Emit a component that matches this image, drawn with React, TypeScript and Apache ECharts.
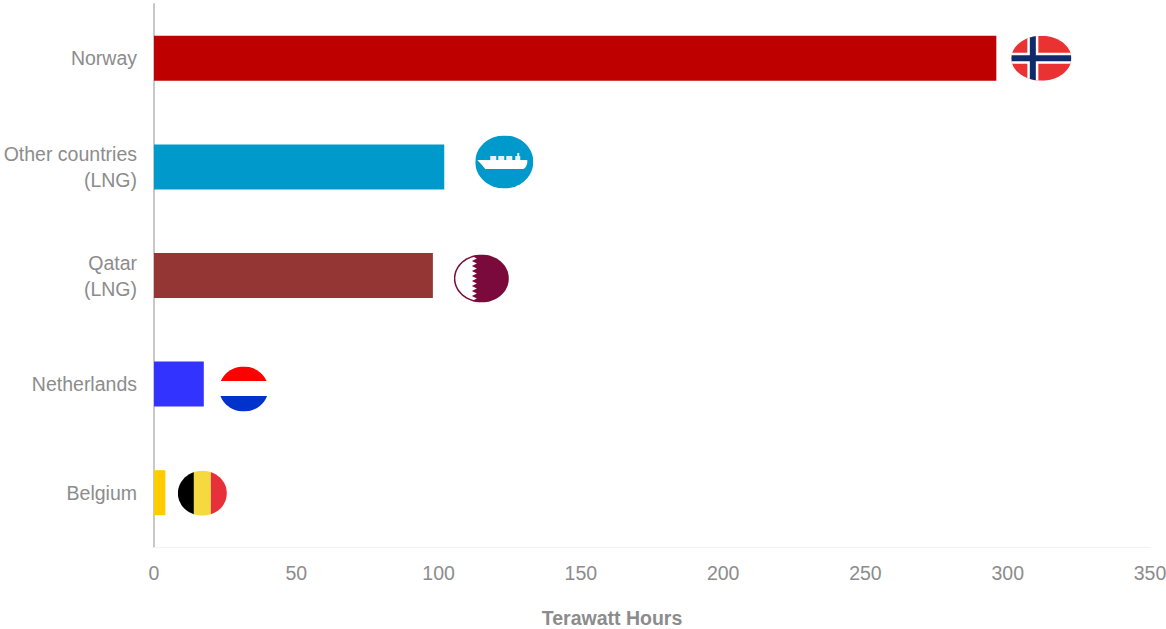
import React, { useEffect, useRef } from "react";
import * as echarts from "echarts";

const countries = ["Norway", "Other countries\n(LNG)", "Qatar\n(LNG)", "Netherlands", "Belgium"];
const terawattHours = [296, 102, 98, 17.5, 4];
const barColors = ["#bf0000", "#0099cc", "#933634", "#3333ff", "#ffcc00"];
const xTicks = { min: 0, max: 350, interval: 50 };
const iconKinds = ["norway", "ship", "qatar", "netherlands", "belgium"];

const FONT = '"Liberation Sans", Arial, sans-serif';
const GREY = "#8c8c8c";

// Icon placement relative to the end of its bar (dx, dy from bar centre, radii)
const iconPlacement: Record<string, { dx: number; dy: number; rx: number; ry: number }> = {
  norway: { dx: 45, dy: 0, rx: 30, ry: 22.5 },
  ship: { dx: 60, dy: -5, rx: 29, ry: 26.5 },
  qatar: { dx: 48.5, dy: 3, rx: 27.5, ry: 24 },
  netherlands: { dx: 40, dy: 5, rx: 24.5, ry: 22.5 },
  belgium: { dx: 37, dy: 0.5, rx: 24.5, ry: 22.5 },
};

const rect = (x: number, y: number, width: number, height: number, fill: string) => ({
  type: "rect",
  shape: { x, y, width, height },
  style: { fill },
});

function qatarEdge(rx: number, ry: number) {
  const teeth = 9;
  const h = (2 * ry) / teeth;
  let d = `M ${-rx - 1} ${-ry - 1} L -9.5 ${-ry - 1} L -9.5 ${-ry}`;
  for (let i = 0; i < teeth; i++) {
    const top = -ry + i * h;
    d += ` L -4.5 ${top + h / 2} L -9.5 ${top + h}`;
  }
  d += ` L -9.5 ${ry + 1} L ${-rx - 1} ${ry + 1} Z`;
  return d;
}

function iconChildren(kind: string, rx: number, ry: number): any[] {
  switch (kind) {
    case "norway":
      return [
        rect(-rx, -ry, 2 * rx, 2 * ry, "#ea3232"),
        rect(-14, -ry, 11, 2 * ry, "#ffffff"),
        rect(-rx, -5.5, 2 * rx, 11, "#ffffff"),
        rect(-11.5, -ry, 6, 2 * ry, "#0f2b6b"),
        rect(-rx, -3, 2 * rx, 6, "#0f2b6b"),
      ];
    case "ship":
      return [
        rect(-rx, -ry, 2 * rx, 2 * ry, "#0099cc"),
        rect(-14, -6, 6, 4, "#e3f3f9"),
        rect(-6, -6, 6, 4, "#e3f3f9"),
        rect(2, -6, 6, 4, "#e3f3f9"),
        rect(11, -6, 5, 4, "#e3f3f9"),
        rect(13, -9, 2, 3, "#e3f3f9"),
        {
          type: "path",
          shape: { pathData: "M -27 -2 L 23 -2 L 23 1 Q 22 6 19 7 L -19 7 Q -22 3 -27 -2 Z" },
          style: { fill: "#ffffff" },
        },
      ];
    case "qatar":
      return [
        rect(-rx, -ry, 2 * rx, 2 * ry, "#7a0a3c"),
        {
          type: "group",
          clipPath: { type: "ellipse", shape: { cx: 0, cy: 0, rx: rx - 1.5, ry: ry - 1.5 } },
          children: [
            {
              type: "path",
              shape: { pathData: qatarEdge(rx - 1.5, ry - 1.5) },
              style: { fill: "#ffffff" },
            },
          ],
        },
      ];
    case "netherlands":
      return [
        rect(-rx, -ry, 2 * rx, 14.5, "#ff0000"),
        rect(-rx, -ry + 14.5, 2 * rx, 15, "#ffffff"),
        rect(-rx, -ry + 29.5, 2 * rx, 2 * ry - 29.5, "#0033cc"),
      ];
    default:
      return [
        rect(-rx, -ry, 16, 2 * ry, "#000000"),
        rect(-rx + 16, -ry, 17, 2 * ry, "#f6d93f"),
        rect(-rx + 33, -ry, 2 * rx - 33, 2 * ry, "#e8303a"),
      ];
  }
}

export default function App() {
  const ref = useRef<HTMLDivElement>(null);

  useEffect(() => {
    document.body.style.margin = "0";
    const chart = echarts.init(ref.current!, null, { renderer: "svg" });
    chart.setOption({
      animation: false,
      backgroundColor: "#ffffff",
      grid: { left: 154, top: 4, width: 996, height: 543, containLabel: false, outerBoundsMode: "none" },
      xAxis: {
        type: "value",
        min: xTicks.min,
        max: xTicks.max,
        interval: xTicks.interval,
        name: "Terawatt Hours",
        nameLocation: "middle",
        nameGap: 61,
        nameTextStyle: {
          fontFamily: FONT,
          fontSize: 19.5,
          fontWeight: "bold",
          color: GREY,
          padding: [0, 80, 0, 0],
        },
        axisLine: { show: true, lineStyle: { color: "#f2f2f2", width: 1 } },
        axisTick: { show: false },
        splitLine: { show: false },
        axisLabel: { fontFamily: FONT, fontSize: 19.5, color: GREY, margin: 16 },
      },
      yAxis: {
        type: "category",
        inverse: true,
        data: countries,
        axisLine: { show: true, lineStyle: { color: "#c8c8c8", width: 2 } },
        axisTick: { show: false },
        axisLabel: {
          fontFamily: FONT,
          fontSize: 19.5,
          lineHeight: 26,
          color: GREY,
          margin: 17,
          align: "right",
        },
      },
      series: [
        {
          type: "bar",
          barWidth: 45,
          data: terawattHours.map((value, i) => ({
            value,
            itemStyle: { color: barColors[i] },
          })),
        },
        {
          type: "custom",
          clip: false,
          silent: true,
          encode: { x: 0, y: 1 },
          data: terawattHours.map((value, i) => [value, i]),
          renderItem: (params: any, api: any) => {
            const kind = iconKinds[params.dataIndex];
            const p = iconPlacement[kind];
            const end = api.coord([api.value(0), api.value(1)]);
            return {
              type: "group",
              x: end[0] + p.dx,
              y: end[1] + p.dy,
              clipPath: { type: "ellipse", shape: { cx: 0, cy: 0, rx: p.rx, ry: p.ry } },
              children: iconChildren(kind, p.rx, p.ry),
            };
          },
        },
      ],
    });
    return () => chart.dispose();
  }, []);

  return <div ref={ref} style={{ width: 1166, height: 629 }} />;
}
